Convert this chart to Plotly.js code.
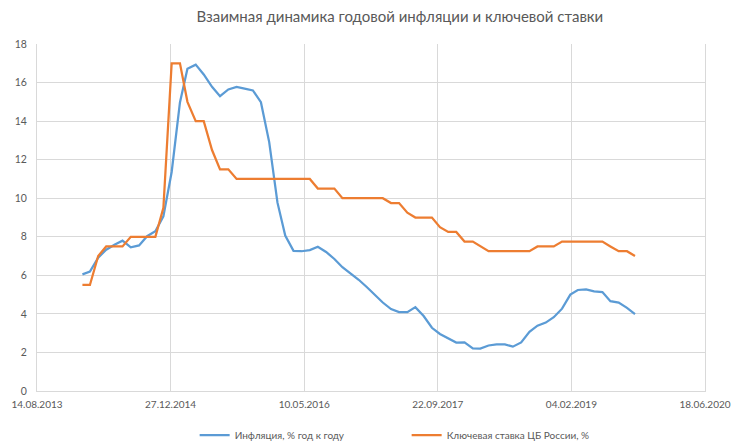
<!DOCTYPE html>
<html>
<head>
<meta charset="utf-8">
<script src="https://cdn.plot.ly/plotly-3.0.1.min.js"></script>
<style>
  html, body { margin: 0; padding: 0; background: #fff; }
  #chart { width: 742px; height: 445px; }
</style>
</head>
<body>
<div id="chart"></div>
<script>
// Months (end-of-month observations), Jan 2014 – Sep 2019
const months = [
  '2014-01','2014-02','2014-03','2014-04','2014-05','2014-06','2014-07','2014-08','2014-09','2014-10','2014-11','2014-12',
  '2015-01','2015-02','2015-03','2015-04','2015-05','2015-06','2015-07','2015-08','2015-09','2015-10','2015-11','2015-12',
  '2016-01','2016-02','2016-03','2016-04','2016-05','2016-06','2016-07','2016-08','2016-09','2016-10','2016-11','2016-12',
  '2017-01','2017-02','2017-03','2017-04','2017-05','2017-06','2017-07','2017-08','2017-09','2017-10','2017-11','2017-12',
  '2018-01','2018-02','2018-03','2018-04','2018-05','2018-06','2018-07','2018-08','2018-09','2018-10','2018-11','2018-12',
  '2019-01','2019-02','2019-03','2019-04','2019-05','2019-06','2019-07','2019-08','2019-09'
];

// Inflation, % y/y
const inflation = [
  6.05, 6.19, 6.92, 7.33, 7.59, 7.80, 7.45, 7.55, 8.03, 8.29, 9.06, 11.36,
  14.97, 16.71, 16.93, 16.42, 15.78, 15.29, 15.64, 15.77, 15.68, 15.59, 14.98, 12.91,
  9.77, 8.06, 7.27, 7.25, 7.31, 7.48, 7.21, 6.85, 6.42, 6.09, 5.77, 5.38,
  4.96, 4.59, 4.25, 4.09, 4.09, 4.35, 3.89, 3.28, 2.96, 2.72, 2.51, 2.52,
  2.21, 2.20, 2.36, 2.42, 2.42, 2.30, 2.52, 3.07, 3.39, 3.55, 3.83, 4.27,
  5.00, 5.24, 5.27, 5.17, 5.13, 4.66, 4.59, 4.31, 3.99
];

// Key rate of the Bank of Russia, %
const keyRate = [
  5.5, 5.5, 7, 7.5, 7.5, 7.5, 8, 8, 8, 8, 9.5, 17,
  17, 15, 14, 14, 12.5, 11.5, 11.5, 11, 11, 11, 11, 11,
  11, 11, 11, 11, 11, 10.5, 10.5, 10.5, 10, 10, 10, 10,
  10, 10, 9.75, 9.75, 9.25, 9, 9, 9, 8.5, 8.25, 8.25, 7.75,
  7.75, 7.5, 7.25, 7.25, 7.25, 7.25, 7.25, 7.25, 7.5, 7.5, 7.5, 7.75,
  7.75, 7.75, 7.75, 7.75, 7.75, 7.5, 7.25, 7.25, 7.0
];

// X-axis ticks
const tickDates = ['2013-08-14','2014-12-27','2016-05-10','2017-09-22','2019-02-04','2020-06-18'];
const tickLabels = ['14.08.2013','27.12.2014','10.05.2016','22.09.2017','04.02.2019','18.06.2020'];
const yTicks = [0, 2, 4, 6, 8, 10, 12, 14, 16, 18];

const seriesNames = ['Инфляция, % год к году', 'Ключевая ставка ЦБ России, %'];
const chartTitle = 'Взаимная динамика годовой инфляции и ключевой ставки';

// convert month to last day of month
function monthEnd(m) {
  const [y, mo] = m.split('-').map(Number);
  const d = new Date(Date.UTC(y, mo, 0));
  return d.toISOString().slice(0, 10);
}
const dates = months.map(monthEnd);

const FONT = 'Lato, "Open Sans", "Liberation Sans", sans-serif';

const traces = [
  {
    x: dates, y: inflation, name: seriesNames[0], type: 'scatter', mode: 'lines',
    line: { color: '#5B9BD5', width: 2.25 }
  },
  {
    x: dates, y: keyRate, name: seriesNames[1], type: 'scatter', mode: 'lines',
    line: { color: '#ED7D31', width: 2.25 }
  }
];

const layout = {
  width: 742, height: 445,
  margin: { l: 37, r: 37, t: 44, b: 54 },
  paper_bgcolor: '#ffffff', plot_bgcolor: '#ffffff',
  font: { family: FONT, color: '#595959', size: 10 },
  title: {
    text: chartTitle,
    font: { family: FONT, size: 15, color: '#595959' },
    x: 0.539, xanchor: 'center', y: 0.962, yanchor: 'middle'
  },
  xaxis: {
    type: 'date',
    range: [tickDates[0], tickDates[tickDates.length - 1]],
    tickmode: 'array', tickvals: tickDates, ticktext: tickLabels,
    showgrid: true, gridcolor: '#D9D9D9', gridwidth: 1,
    showline: true, linecolor: '#D9D9D9', linewidth: 1,
    ticks: '', ticklabelstandoff: 4,
    tickfont: { family: FONT, size: 10, color: '#595959' },
    zeroline: false, fixedrange: true
  },
  yaxis: {
    range: [0, 18],
    tickmode: 'array', tickvals: yTicks,
    showgrid: true, gridcolor: '#D9D9D9', gridwidth: 1,
    showline: true, mirror: true, linecolor: '#D9D9D9', linewidth: 1,
    ticks: '', ticklabelstandoff: 7,
    tickfont: { family: FONT, size: 10.5, color: '#595959' },
    zeroline: false, fixedrange: true
  },
  showlegend: true,
  legend: {
    orientation: 'h',
    x: 0.236, xanchor: 'left',
    yref: 'container', y: 0.022, yanchor: 'middle',
    font: { family: FONT, size: 10, color: '#595959' },
    entrywidth: 167, entrywidthmode: 'pixels',
    bgcolor: 'rgba(0,0,0,0)'
  }
};

Plotly.newPlot('chart', traces, layout, { staticPlot: true, displayModeBar: false });
</script>
</body>
</html>
